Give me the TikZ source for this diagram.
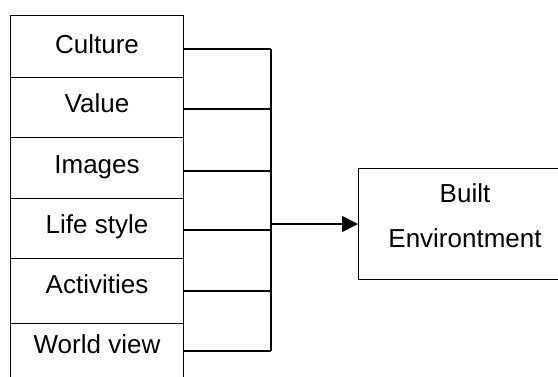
\documentclass[tikz,border=0pt]{standalone}
\usepackage{fontspec}
\setmainfont{Liberation Sans}
\usetikzlibrary{arrows.meta}
\begin{document}
\begin{tikzpicture}[x=1pt,y=-1pt,
  cell/.style={draw, line width=0.9pt, rectangle, minimum width=173pt, inner sep=0pt, outer sep=0pt, anchor=north west},
  lbl/.style={anchor=base, inner sep=0pt, font=\fontsize{26}{30}\selectfont},
  conn/.style={line width=1.3pt, black},
  bus/.style={line width=1.7pt, black}]
\useasboundingbox (0,0) rectangle (558,376);
\clip (0,0) rectangle (558,376);
\fill[white] (0,0) rectangle (558,376);
% left column of boxes
\node[cell, minimum height=62pt] (b1) at (10,15) {};
\node[cell, minimum height=60pt] (b2) at (10,77) {};
\node[cell, minimum height=61pt] (b3) at (10,137) {};
\node[cell, minimum height=60pt] (b4) at (10,198) {};
\node[cell, minimum height=65pt] (b5) at (10,258) {};
\node[cell, minimum height=80pt] (b6) at (10,323) {};
\node[lbl] (t1) at (97,53) {Culture};
\node[lbl] (t2) at (97,112) {Value};
\node[lbl] (t3) at (97,173) {Images};
\node[lbl] (t4) at (97,233) {Life style};
\node[lbl] (t5) at (97,293) {Activities};
\node[lbl] (t6) at (97,353) {World view};
% target box
\node[draw, line width=0.9pt, rectangle, minimum width=214pt, minimum height=111pt,
  inner sep=0pt, outer sep=0pt, anchor=north west] (be) at (358,168) {};
\node[anchor=base, inner sep=0pt, font=\fontsize{26}{30}\selectfont] (bt1) at (465,202) {Built};
\node[anchor=base, inner sep=0pt, font=\fontsize{26}{30}\selectfont] (bt2) at (465,247) {Environtment};
% bus
\coordinate (jtop) at (271,49);
\coordinate (jbot) at (271,351);
\coordinate (jmid) at (271,224);
\draw[conn] ([yshift=-34pt]b1.north east) -- (jtop);
\draw[conn] ([yshift=-32pt]b2.north east) -- (jtop |- 0,109);
\draw[conn] ([yshift=-34pt]b3.north east) -- (jtop |- 0,171);
\draw[conn] ([yshift=-32pt]b4.north east) -- (jtop |- 0,230);
\draw[conn] ([yshift=-33pt]b5.north east) -- (jtop |- 0,291);
\draw[conn] ([yshift=-28pt]b6.north east) -- (jbot);
\draw[bus] (jtop) -- (jbot);
\draw[bus, -{Triangle[length=16pt,width=16pt]}] (jmid) -- (be.west |- jmid);
\end{tikzpicture}
\end{document}
